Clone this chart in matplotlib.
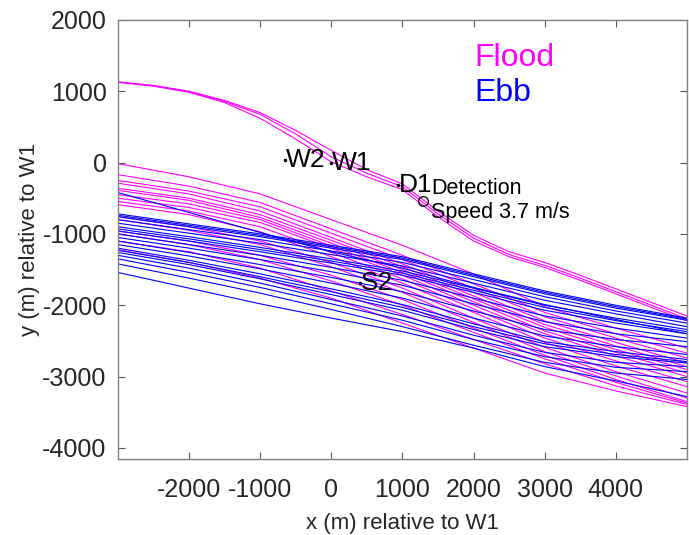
import matplotlib
matplotlib.use("Agg")
import matplotlib.pyplot as plt

plt.rcParams['font.family'] = ['Liberation Sans', 'DejaVu Sans']
plt.rcParams['axes.unicode_minus'] = False

# sample x positions (m relative to W1) for the main tracks
x_grid = [-3000, -2000, -1000, 0, 1000, 2000, 3000, 4000, 5000]
# finer sample x positions for the three northern flood tracks
x_fine = [-3000, -2500, -2000, -1500, -1000, -500, 0, 500, 1000, 1500,
          2000, 2500, 3000, 3500, 4000, 4500, 5000]

# Northern flood tracks (y values at x_fine)
flood_north = [
    [1130, 1080, 1000, 870, 700, 450, 170, -100, -300, -680, -1020, -1250, -1400, -1580, -1770, -1960, -2150],
    [1130, 1075, 990, 855, 675, 400, 80, -150, -340, -720, -1060, -1290, -1440, -1620, -1810, -2000, -2190],
    [1125, 1070, 985, 840, 620, 330, 10, -200, -380, -760, -1100, -1320, -1470, -1650, -1840, -2030, -2220],
]

# Flood tracks (y values at x_grid)
flood_tracks = [
    [-15, -200, -440, -800, -1160, -1560, -2020, -2320, -2600],
    [-170, -330, -560, -930, -1300, -1700, -2100, -2400, -2670],
    [-250, -400, -620, -990, -1360, -1760, -2160, -2460, -2740],
    [-290, -440, -680, -1050, -1420, -1820, -2220, -2520, -2810],
    [-360, -500, -730, -1090, -1460, -1870, -2270, -2570, -2860],
    [-390, -530, -770, -1130, -1500, -1910, -2310, -2620, -2900],
    [-450, -580, -800, -1170, -1540, -1950, -2360, -2660, -2950],
    [-500, -630, -840, -1200, -1580, -2000, -2400, -2710, -3000],
    [-545, -680, -900, -1260, -1630, -2050, -2460, -2780, -3070],
    [-590, -730, -970, -1320, -1690, -2100, -2520, -2850, -3140],
    [-760, -900, -1100, -1400, -1760, -2180, -2590, -2930, -3230],
    [-800, -950, -1150, -1460, -1820, -2240, -2650, -2990, -3300],
    [-960, -1100, -1300, -1580, -1920, -2320, -2700, -3040, -3350],
    [-1000, -1150, -1360, -1660, -2000, -2380, -2750, -3080, -3370],
    [-1100, -1250, -1480, -1800, -2130, -2480, -2820, -3130, -3390],
    [-1220, -1400, -1620, -1900, -2250, -2600, -2950, -3200, -3420],
]

# Ebb tracks (y values at x_grid)
ebb_tracks = [
    [-420, -700, -980, -1250, -1480, -1750, -1990, -2200, -2400],
    [-720, -860, -1000, -1160, -1320, -1560, -1800, -2000, -2180],
    [-740, -880, -1020, -1180, -1340, -1580, -1820, -2020, -2195],
    [-760, -900, -1040, -1200, -1360, -1600, -1840, -2040, -2210],
    [-800, -940, -1080, -1240, -1400, -1640, -1880, -2080, -2250],
    [-850, -990, -1130, -1290, -1450, -1690, -1930, -2120, -2300],
    [-900, -1040, -1190, -1350, -1520, -1760, -2000, -2180, -2340],
    [-930, -1070, -1220, -1380, -1550, -1790, -2030, -2215, -2370],
    [-960, -1100, -1250, -1410, -1580, -1820, -2070, -2250, -2400],
    [-1000, -1150, -1300, -1470, -1650, -1900, -2150, -2320, -2460],
    [-1050, -1200, -1360, -1530, -1720, -1980, -2230, -2400, -2510],
    [-1100, -1260, -1430, -1610, -1810, -2080, -2340, -2480, -2580],
    [-1150, -1310, -1490, -1690, -1900, -2180, -2430, -2580, -2690],
    [-1200, -1370, -1560, -1770, -1990, -2260, -2510, -2650, -2760],
    [-1230, -1400, -1600, -1810, -2030, -2300, -2540, -2690, -2790],
    [-1260, -1430, -1630, -1850, -2070, -2340, -2580, -2720, -2810],
    [-1300, -1480, -1690, -1920, -2150, -2420, -2660, -2800, -2860],
    [-1350, -1540, -1750, -1980, -2210, -2480, -2720, -2870, -2930],
    [-1420, -1620, -1830, -2060, -2300, -2560, -2800, -2950, -3040],
    [-1540, -1760, -1980, -2180, -2370, -2600, -2860, -3060, -3280],
]

# labelled stations
station_names = ['W2', 'W1', 'D1', 'S2']
station_x = [-650, 0, 940, 405]
station_y = [35, 0, -310, -1685]

detection_x = 1295
detection_y = -535
detection_text = 'Detection\nSpeed 3.7 m/s'

xticks = [-2000, -1000, 0, 1000, 2000, 3000, 4000]
yticks = [-4000, -3000, -2000, -1000, 0, 1000, 2000]

fig = plt.figure(figsize=(6.89, 5.35), dpi=100)
ax = fig.add_axes([0.171, 0.142, 0.826, 0.821])

for ys in flood_north:
    ax.plot(x_fine, ys, color='#FF00FF', lw=0.8)
for ys in flood_tracks:
    ax.plot(x_grid, ys, color='#FF00FF', lw=0.8)
for ys in ebb_tracks:
    ax.plot(x_grid, ys, color='#0000FF', lw=0.8)

for name, sx, sy in zip(station_names, station_x, station_y):
    ax.plot(sx, sy, 'k.', markersize=3)
    ax.text(sx + 15, sy, name, fontsize=19, va='center', ha='left', color='black')

ax.plot(detection_x, detection_y, 'o', mfc='none', mec='black', markersize=7, mew=0.9)
ax.text(detection_x + 110, detection_y, detection_text, fontsize=15.5,
        va='center', ha='left', color='black', linespacing=1.2)

ax.text(2010, 1470, 'Flood', color='#FF00FF', fontsize=23, va='center', ha='left')
ax.text(2010, 980, 'Ebb', color='#0000FF', fontsize=23, va='center', ha='left')

ax.set_xlim(-3000, 5000)
ax.set_ylim(-4155, 2000)
ax.set_xticks(xticks)
ax.set_yticks(yticks)
ax.tick_params(direction='in', length=5, width=0.8, colors='#555555',
               labelcolor='#262626', labelsize=18, top=True, right=True)
ax.tick_params(axis='x', pad=14)
ax.tick_params(axis='y', pad=8)
for s in ax.spines.values():
    s.set_color('#808080')
    s.set_linewidth(1.0)

ax.set_xlabel('x (m) relative to W1', fontsize=16, color='#262626')
ax.set_ylabel('y (m) relative to W1', fontsize=16, color='#262626')
ax.xaxis.set_label_coords(0.5, -0.124)
ax.yaxis.set_label_coords(-0.137, 0.5)

fig.savefig('out.png', dpi=100)
